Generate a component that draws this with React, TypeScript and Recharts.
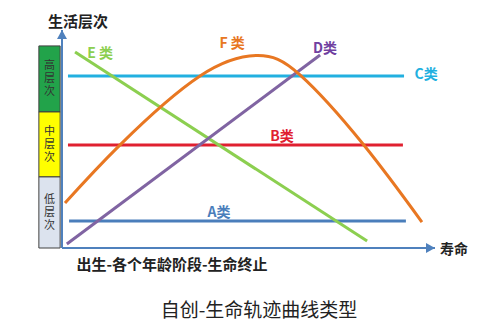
import React from 'react';
import { LineChart, Line, XAxis, YAxis, ReferenceLine, ReferenceArea, ReferenceDot } from 'recharts';

// x: 出生 → 生命终止 (0-100), y: 生活层次 (0-100)
const lineA = [{ x: 1.9, y: 12.4 }, { x: 92.2, y: 12.4 }];
const lineB = [{ x: 1.6, y: 47.2 }, { x: 91.4, y: 47.2 }];
const lineC = [{ x: 1.6, y: 78.9 }, { x: 91.7, y: 78.9 }];
const lineD = [{ x: 1.3, y: 1.8 }, { x: 69.2, y: 88.5 }];
const lineE = [{ x: 3.5, y: 89.9 }, { x: 81.8, y: 3.2 }];
const lineF = [
  { x: 0.8, y: 20.6 },
  { x: 15.5, y: 47.2 },
  { x: 37.0, y: 78.9 },
  { x: 52.5, y: 88.3 },
  { x: 63.8, y: 79.4 },
  { x: 80.7, y: 47.7 },
  { x: 96.5, y: 11.9 },
];

const levels = [
  { name: '高层次', from: 62.4, to: 92.7, color: '#22a34a' },
  { name: '中层次', from: 32.6, to: 62.4, color: '#ffff00' },
  { name: '低层次', from: 0, to: 32.6, color: '#dce3ee' },
];

const seriesLabels = [
  { text: 'A类', x: 42.1, y: 16.5, color: '#4a7ebb' },
  { text: 'B类', x: 59, y: 51.4, color: '#e02030' },
  { text: 'C类', x: 97.6, y: 79.8, color: '#22b0e0' },
  { text: 'D类', x: 70.5, y: 91.7, color: '#7040a0' },
  { text: 'E 类', x: 10.2, y: 89.4, color: '#8ccf50' },
  { text: 'F 类', x: 45.6, y: 94, color: '#e87722' },
];

const axisColor = '#4f81bd';
const font = '"Noto Sans CJK SC", "Noto Sans", sans-serif';

const VerticalLabel = (props: any) => {
  const { viewBox, value } = props;
  const cx = viewBox.x + viewBox.width / 2;
  const cy = viewBox.y + viewBox.height / 2;
  return (
    <text x={cx} y={cy} textAnchor="middle" fontSize={11} fill="#333" fontFamily={font}
      style={{ writingMode: 'vertical-rl', letterSpacing: 2 }}>
      {value}
    </text>
  );
};

const ArrowRight = (props: any) => (
  <path d={`M${props.cx},${props.cy} L${props.cx - 9},${props.cy - 5} L${props.cx - 9},${props.cy + 5} Z`} fill={axisColor} />
);
const ArrowUp = (props: any) => (
  <path d={`M${props.cx},${props.cy} L${props.cx - 5},${props.cy + 9} L${props.cx + 5},${props.cy + 9} Z`} fill={axisColor} />
);

export default function App() {
  return (
    <div style={{ position: 'absolute', left: 0, top: 0, width: 500, height: 336, background: '#fff' }}>
      <LineChart width={500} height={336} margin={{ top: 30, right: 65, left: 62, bottom: 88 }}>
        <XAxis type="number" dataKey="x" domain={[0, 100]} hide allowDataOverflow />
        <YAxis type="number" dataKey="y" domain={[0, 100]} hide allowDataOverflow />

        {levels.map((l) => (
          <ReferenceArea
            key={l.name}
            x1={-6.2}
            x2={-0.5}
            y1={l.from}
            y2={l.to}
            fill={l.color}
            fillOpacity={1}
            stroke="#404040"
            strokeWidth={1}
            ifOverflow="visible"
            label={<VerticalLabel value={l.name} />}
          />
        ))}

        <ReferenceLine x={0} stroke={axisColor} strokeWidth={2} />
        <ReferenceLine y={0} stroke={axisColor} strokeWidth={2} />
        <ReferenceDot x={100} y={0} r={0} shape={ArrowRight} ifOverflow="visible" />
        <ReferenceDot x={0} y={100} r={0} shape={ArrowUp} ifOverflow="visible" />

        <Line data={lineC} dataKey="y" type="linear" stroke="#22b0e0" strokeWidth={3} dot={false} isAnimationActive={false} />
        <Line data={lineB} dataKey="y" type="linear" stroke="#e02030" strokeWidth={3} dot={false} isAnimationActive={false} />
        <Line data={lineA} dataKey="y" type="linear" stroke="#4a7ebb" strokeWidth={3} dot={false} isAnimationActive={false} />
        <Line data={lineE} dataKey="y" type="linear" stroke="#8ccf50" strokeWidth={3} dot={false} isAnimationActive={false} />
        <Line data={lineD} dataKey="y" type="linear" stroke="#8064a2" strokeWidth={3} dot={false} isAnimationActive={false} />
        <Line data={lineF} dataKey="y" type="natural" stroke="#e87722" strokeWidth={3} dot={false} isAnimationActive={false} />

        {seriesLabels.map((s) => (
          <ReferenceDot
            key={s.text}
            x={s.x}
            y={s.y}
            r={0}
            fill="none"
            stroke="none"
            ifOverflow="visible"
            label={{ value: s.text, position: 'center', fill: s.color, fontSize: 14, fontWeight: 'bold', fontFamily: font }}
          />
        ))}
        <ReferenceDot x={4.3} y={103.7} r={0} fill="none" stroke="none" ifOverflow="visible"
          label={{ value: '生活层次', position: 'center', fill: '#222', fontSize: 15, fontWeight: 'bold', fontFamily: font }} />
        <ReferenceDot x={105.1} y={-0.5} r={0} fill="none" stroke="none" ifOverflow="visible"
          label={{ value: '寿命', position: 'center', fill: '#222', fontSize: 14, fontWeight: 'bold', fontFamily: font }} />
        <ReferenceDot x={29.5} y={-7.8} r={0} fill="none" stroke="none" ifOverflow="visible"
          label={{ value: '出生-各个年龄阶段-生命终止', position: 'center', fill: '#222', fontSize: 15, fontWeight: 'bold', fontFamily: font }} />
      </LineChart>
      <div style={{ position: 'absolute', left: 0, top: 296, width: 518, textAlign: 'center', fontSize: 19, lineHeight: '26px', color: '#222', fontFamily: font }}>
        自创-生命轨迹曲线类型
      </div>
    </div>
  );
}
